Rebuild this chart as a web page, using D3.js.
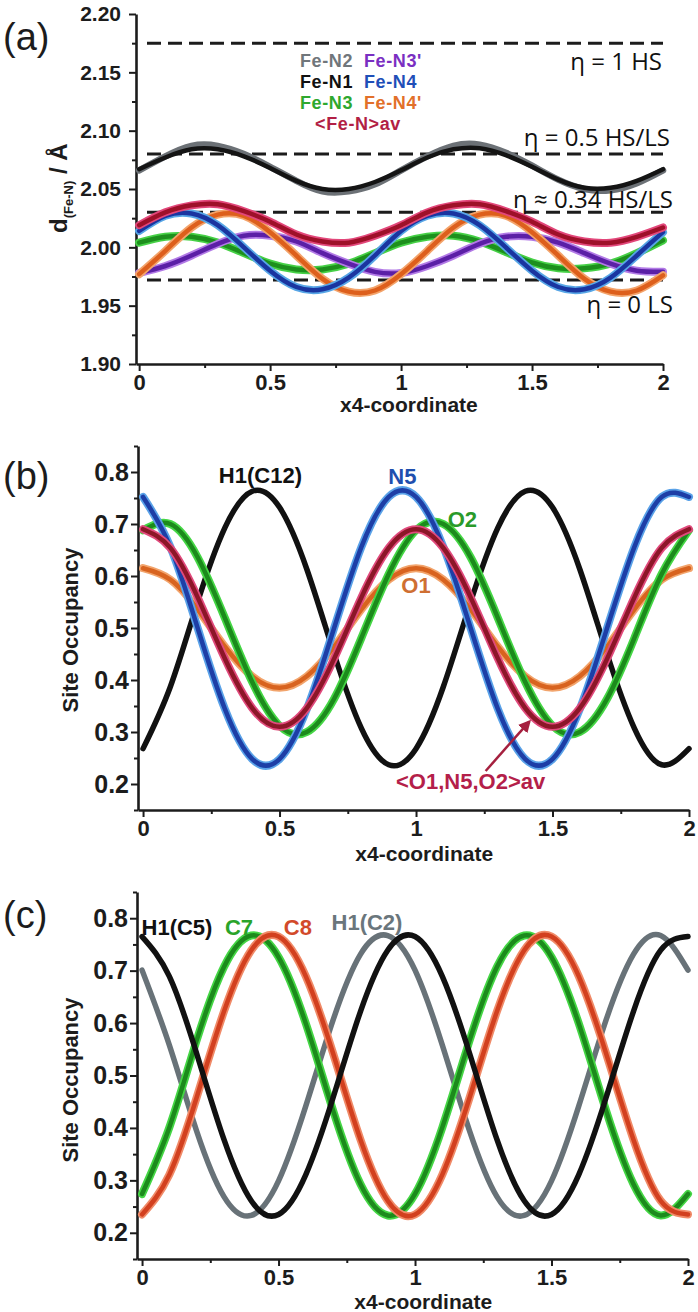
<!DOCTYPE html>
<html>
<head>
<meta charset="utf-8">
<script src="https://cdn.jsdelivr.net/npm/d3@7"></script>
<style>
  body { margin: 0; background: #fff; }
  svg { display: block; font-family: "Liberation Sans", Arial, sans-serif; }
</style>
</head>
<body>
<svg id="fig" width="698" height="1312"></svg>
<script>
// x4 sampling grid shared by every curve
const x4 = [0, 0.1, 0.2, 0.3, 0.4, 0.5, 0.6, 0.7, 0.8, 0.9, 1.0,
            1.1, 1.2, 1.3, 1.4, 1.5, 1.6, 1.7, 1.8, 1.9, 2.0];

// ---- panel (a): Fe-N distances (Å) ----
const feN2  = [2.066, 2.078, 2.087, 2.087, 2.080, 2.069, 2.057, 2.048, 2.048, 2.054, 2.066,
               2.078, 2.087, 2.088, 2.081, 2.070, 2.058, 2.050, 2.049, 2.055, 2.066];
const feN1  = [2.067, 2.077, 2.084, 2.084, 2.078, 2.068, 2.057, 2.050, 2.050, 2.056, 2.066,
               2.077, 2.084, 2.085, 2.079, 2.069, 2.058, 2.051, 2.051, 2.057, 2.067];
const feN3  = [2.004, 2.009, 2.009, 2.004, 1.995, 1.986, 1.981, 1.981, 1.986, 1.995, 2.004,
               2.009, 2.010, 2.005, 1.996, 1.987, 1.982, 1.982, 1.986, 1.995, 2.006];
const feN3p = [1.978, 1.984, 1.993, 2.003, 2.010, 2.010, 2.005, 1.995, 1.986, 1.979, 1.978,
               1.984, 1.993, 2.003, 2.009, 2.009, 2.004, 1.995, 1.986, 1.980, 1.979];
const feN4  = [2.014, 2.027, 2.029, 2.019, 2.000, 1.980, 1.966, 1.964, 1.974, 1.993, 2.014,
               2.027, 2.029, 2.019, 2.000, 1.980, 1.966, 1.964, 1.974, 1.993, 2.013];
const feN4p = [1.977, 1.997, 2.017, 2.028, 2.027, 2.013, 1.993, 1.973, 1.962, 1.963, 1.977,
               1.997, 2.017, 2.028, 2.027, 2.013, 1.993, 1.973, 1.962, 1.963, 1.976];
const feNav = [2.019, 2.030, 2.036, 2.037, 2.031, 2.022, 2.011, 2.005, 2.004, 2.010, 2.019,
               2.030, 2.036, 2.037, 2.031, 2.022, 2.011, 2.005, 2.004, 2.009, 2.017];

// spin-state reference levels
const etaLevels = [2.175, 2.08, 2.03, 1.972];
const etaLabels = ["\u03b7 = 1 HS", "\u03b7 = 0.5 HS/LS", "\u03b7 \u2248 0.34 HS/LS", "\u03b7 = 0 LS"];

// ---- panel (b): site occupancies ----
const h1c12 = [0.268, 0.387, 0.550, 0.693, 0.763, 0.732, 0.613, 0.450, 0.307, 0.237, 0.268,
               0.387, 0.550, 0.693, 0.763, 0.732, 0.613, 0.450, 0.307, 0.237, 0.268];
const n5    = [0.752, 0.656, 0.500, 0.344, 0.248, 0.248, 0.344, 0.500, 0.656, 0.752, 0.752,
               0.656, 0.500, 0.344, 0.248, 0.248, 0.344, 0.500, 0.656, 0.752, 0.752];
const o2    = [0.688, 0.700, 0.636, 0.519, 0.396, 0.312, 0.300, 0.364, 0.481, 0.604, 0.688,
               0.700, 0.636, 0.519, 0.396, 0.312, 0.300, 0.364, 0.481, 0.604, 0.688];
const o1    = [0.615, 0.593, 0.536, 0.464, 0.407, 0.385, 0.407, 0.464, 0.536, 0.593, 0.615,
               0.593, 0.536, 0.464, 0.407, 0.385, 0.407, 0.464, 0.536, 0.593, 0.615];
const occAv = [0.690, 0.654, 0.559, 0.441, 0.346, 0.310, 0.346, 0.441, 0.559, 0.654, 0.690,
               0.654, 0.559, 0.441, 0.346, 0.310, 0.346, 0.441, 0.559, 0.654, 0.690];

// ---- panel (c): site occupancies ----
const h1c5 = [0.765, 0.689, 0.542, 0.378, 0.261, 0.235, 0.311, 0.458, 0.622, 0.739, 0.765,
              0.689, 0.542, 0.378, 0.261, 0.235, 0.311, 0.458, 0.622, 0.739, 0.765];
const c7   = [0.274, 0.401, 0.567, 0.707, 0.767, 0.726, 0.599, 0.433, 0.293, 0.233, 0.274,
              0.401, 0.567, 0.707, 0.767, 0.726, 0.599, 0.433, 0.293, 0.233, 0.274];
const c8   = [0.235, 0.311, 0.458, 0.622, 0.739, 0.765, 0.689, 0.542, 0.378, 0.261, 0.235,
              0.311, 0.458, 0.622, 0.739, 0.765, 0.689, 0.542, 0.378, 0.261, 0.235];
const h1c2 = [0.701, 0.558, 0.394, 0.269, 0.233, 0.299, 0.442, 0.606, 0.731, 0.767, 0.701,
              0.558, 0.394, 0.269, 0.233, 0.299, 0.442, 0.606, 0.731, 0.767, 0.701];

// ticks
const xTicks = [0, 0.5, 1, 1.5, 2];
const xMinor = [0.25, 0.75, 1.25, 1.75];
const dTicks = [1.90, 1.95, 2.00, 2.05, 2.10, 2.15, 2.20];
const dMinor = [1.925, 1.975, 2.025, 2.075, 2.125, 2.175];
const occTicks = [0.2, 0.3, 0.4, 0.5, 0.6, 0.7, 0.8];
const occMinor = [0.15, 0.25, 0.35, 0.45, 0.55, 0.65, 0.75, 0.85];

const svg = d3.select("#fig");
const INK = "#1c1c1c";

function makeAxes(x, y, yTicks, yMinor, yFmt, yFont, yPad, yBase) {
  const g = svg.append("g");
  const xb = g.append("g").attr("transform", `translate(0,${yBase})`)
    .call(d3.axisBottom(x).tickValues(xTicks).tickFormat(d3.format("")).tickSize(7).tickSizeOuter(0).tickPadding(3));
  g.append("g").attr("transform", `translate(0,${yBase})`)
    .call(d3.axisBottom(x).tickValues(xMinor).tickFormat("").tickSize(4).tickSizeOuter(0))
    .select(".domain").remove();
  const x0 = x.range()[0];
  const yl = g.append("g").attr("transform", `translate(${x0},0)`)
    .call(d3.axisLeft(y).tickValues(yTicks).tickFormat(d3.format(yFmt)).tickSize(7).tickSizeOuter(0).tickPadding(yPad));
  g.append("g").attr("transform", `translate(${x0},0)`)
    .call(d3.axisLeft(y).tickValues(yMinor).tickFormat("").tickSize(4).tickSizeOuter(0))
    .select(".domain").remove();
  g.selectAll(".domain").attr("stroke", INK).attr("stroke-width", 2.6);
  g.selectAll(".tick line").attr("stroke", INK).attr("stroke-width", 2);
  xb.selectAll("text").attr("font-size", 22).attr("font-weight", "bold").attr("fill", INK)
    .attr("font-family", "Liberation Sans, Arial, sans-serif");
  yl.selectAll("text").attr("font-size", yFont).attr("font-weight", "bold").attr("fill", INK)
    .attr("font-family", "Liberation Sans, Arial, sans-serif");
  return g;
}

function curve(x, y, vals, core, halo, w) {
  const line = d3.line().x((d, i) => x(x4[i])).y(d => y(d)).curve(d3.curveNatural);
  if (halo) {
    svg.append("path").attr("d", line(vals)).attr("fill", "none")
      .attr("stroke", halo).attr("stroke-width", w + 2).attr("stroke-linecap", "round");
    svg.append("path").attr("d", line(vals)).attr("fill", "none")
      .attr("stroke", core).attr("stroke-width", w - 1.5).attr("stroke-linecap", "round");
  } else {
    svg.append("path").attr("d", line(vals)).attr("fill", "none")
      .attr("stroke", core).attr("stroke-width", w).attr("stroke-linecap", "round");
  }
}

function label(txt, px, py, color, opts = {}) {
  const t = svg.append("text").attr("x", px).attr("y", py).text(txt)
    .attr("fill", color)
    .attr("font-size", opts.size || 22)
    .attr("font-weight", opts.weight || "bold")
    .attr("text-anchor", opts.anchor || "middle")
    .attr("font-family", opts.family || "Liberation Sans, Arial, sans-serif");
  if (opts.spacing) t.attr("letter-spacing", opts.spacing);
  return t;
}

function xTitle(x, yb) {
  label("x4-coordinate", x(1.03), yb, INK, { size: 21 });
}

function occTitle(cy) {
  svg.append("text").attr("transform", `translate(78,${cy}) rotate(-90)`)
    .attr("text-anchor", "middle").attr("font-size", 22).attr("font-weight", "bold")
    .attr("fill", INK).text("Site Occupancy");
}

// ================= panel (a) =================
{
  const x = d3.scaleLinear().domain([-0.012, 2]).range([136, 663]);
  const y = d3.scaleLinear().domain([1.90, 2.20]).range([364, 14]);
  makeAxes(x, y, dTicks, dMinor, ".2f", 21, 8, 364);

  etaLevels.forEach(v => {
    svg.append("line").attr("x1", x(0.03)).attr("x2", x(2)).attr("y1", y(v)).attr("y2", y(v))
      .attr("stroke", INK).attr("stroke-width", 3).attr("stroke-dasharray", "14 7");
  });

  curve(x, y, feN2, "#6c7176", null, 6.5);
  curve(x, y, feN1, "#141414", null, 4.5);
  curve(x, y, feN3, "#1d8f1d", "#46d046", 6);
  curve(x, y, feN3p, "#5b1fa6", "#b27ae6", 6);
  curve(x, y, feN4p, "#dd5f1c", "#f3a36a", 6);
  curve(x, y, feN4, "#1a35a0", "#58a6e6", 6);
  curve(x, y, feNav, "#9e1029", "#e2477a", 6);

  const etaRight = [662, 670, 673, 673];
  const etaBase = [70, 146, 208, 313];
  etaLabels.forEach((t, i) => {
    label(t, etaRight[i], etaBase[i], "#111111",
      { size: 24, weight: "normal", anchor: "end", family: "Open Sans, Lato, sans-serif" });
  });

  // legend (two columns around x = 358)
  const lg = { size: 18, spacing: 0.6 };
  label("Fe-N2", 353, 67, "#70767b", { ...lg, anchor: "end" });
  label("Fe-N1", 353, 88, "#111111", { ...lg, anchor: "end" });
  label("Fe-N3", 353, 109, "#2ea82e", { ...lg, anchor: "end" });
  label("Fe-N3'", 364, 67, "#7a2fc2", { ...lg, anchor: "start" });
  label("Fe-N4", 364, 88, "#1f4fb8", { ...lg, anchor: "start" });
  label("Fe-N4'", 364, 109, "#e2702a", { ...lg, anchor: "start" });
  label("<Fe-N>av", 358, 130, "#b21f45", { ...lg });

  // y title: d(Fe-N) / Å
  const yt = svg.append("text").attr("transform", "translate(67,233) rotate(-90)")
    .attr("font-weight", "bold").attr("fill", INK);
  yt.append("tspan").attr("font-size", 24).text("d");
  yt.append("tspan").attr("font-size", 13).attr("dy", 6).text("(Fe-N)");
  yt.append("tspan").attr("font-size", 24).attr("dy", -6).text(" / \u00c5");

  xTitle(x, 412);
  label("(a)", 3, 50, INK, { size: 38, weight: "normal", anchor: "start" });
}

// ================= panel (b) =================
{
  const x = d3.scaleLinear().domain([-0.0185, 2]).range([138, 689]);
  const y = d3.scaleLinear().domain([0.15, 0.85]).range([810, 446]);
  makeAxes(x, y, occTicks, occMinor, ".1f", 25, 2, 810);

  curve(x, y, h1c12, "#111111", null, 5.5);
  curve(x, y, o1, "#d8631f", "#f2a46c", 6);
  curve(x, y, o2, "#1c8a1c", "#45d645", 6);
  curve(x, y, n5, "#1d3ea6", "#5aa2e8", 6);
  curve(x, y, occAv, "#8c1628", "#e04a7c", 6);

  label("H1(C12)", x(0.43), y(0.779), "#111111");
  label("N5", x(0.95), y(0.777), "#1f4fae");
  label("O2", x(1.17), y(0.694), "#2a9a2a");
  label("O1", x(1.0), y(0.567), "#cf6f32");
  label("<O1,N5,O2>av", x(1.2), y(0.19), "#b41f4a");

  // arrow pointing at the average curve
  const a0 = [x(1.255), y(0.225)], a1 = [x(1.415), y(0.32)];
  svg.append("defs").append("marker").attr("id", "head")
    .attr("viewBox", "0 0 10 10").attr("refX", 8).attr("refY", 5)
    .attr("markerWidth", 5).attr("markerHeight", 5).attr("orient", "auto")
    .append("path").attr("d", "M0,0L10,5L0,10z").attr("fill", "#a5203f");
  svg.append("line").attr("x1", a0[0]).attr("y1", a0[1]).attr("x2", a1[0]).attr("y2", a1[1])
    .attr("stroke", "#a5203f").attr("stroke-width", 2.5).attr("marker-end", "url(#head)");

  occTitle(630);
  xTitle(x, 861);
  label("(b)", 3, 489, INK, { size: 38, weight: "normal", anchor: "start" });
}

// ================= panel (c) =================
{
  const x = d3.scaleLinear().domain([-0.0185, 2]).range([137, 688]);
  const y = d3.scaleLinear().domain([0.15, 0.85]).range([1259, 892]);
  makeAxes(x, y, occTicks, occMinor, ".1f", 25, 2, 1259);

  curve(x, y, h1c2, "#687278", null, 5.5);
  curve(x, y, c7, "#1c8a1c", "#45d645", 6);
  curve(x, y, c8, "#d2401f", "#f08a68", 6);
  curve(x, y, h1c5, "#111111", null, 5.5);

  label("H1(C5)", x(0.128), y(0.768), "#111111");
  label("C7", x(0.355), y(0.768), "#2aa42a");
  label("C8", x(0.571), y(0.768), "#d24a2a");
  label("H1(C2)", x(0.824), y(0.778), "#6a767c");

  occTitle(1080);
  xTitle(x, 1309);
  label("(c)", 3, 928, INK, { size: 38, weight: "normal", anchor: "start" });
}
</script>
</body>
</html>
